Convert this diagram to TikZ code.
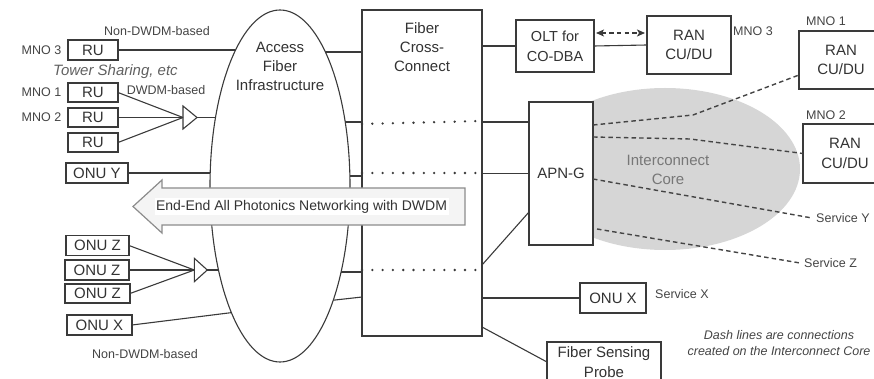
\documentclass[tikz,border=0pt]{standalone}
\usepackage{fontspec}
\setmainfont{Liberation Sans}
\usetikzlibrary{arrows.meta,shapes.geometric,calc}
\pgfdeclarelayer{bg}
\pgfdeclarelayer{fg}
\pgfdeclarelayer{top}
\pgfsetlayers{bg,main,fg,top}
\definecolor{lc}{HTML}{3A3A3A}
\definecolor{tc}{HTML}{333333}
\definecolor{sc}{HTML}{444444}
\definecolor{corec}{HTML}{D6D6D6}
\definecolor{coret}{HTML}{777777}
\definecolor{arrf}{HTML}{F4F4F4}
\definecolor{arrd}{HTML}{8C8C8C}
\begin{document}
\begin{tikzpicture}[x=1pt,y=-1pt,
  bx/.style={draw=lc, line width=1.1pt, fill=white, inner sep=0pt, outer sep=0pt,
    align=center, text=tc, font=\fontsize{15}{19.5}\selectfont},
  conn/.style={draw=lc, line width=1.1pt},
  dotl/.style={draw=lc, line width=2.6pt, dash pattern=on 0pt off 10.3pt, line cap=round},
  dashl/.style={draw=sc, line width=1.4pt, dash pattern=on 4.5pt off 3.2pt},
  lbl/.style={text=sc, inner sep=0pt, font=\fontsize{12.5}{15}\selectfont},
  bigt/.style={text=tc, inner sep=0pt, align=center, font=\fontsize{15}{19}\selectfont},
  splitter/.style={draw=lc, line width=1.1pt, fill=white, line join=miter},
]
\useasboundingbox (0,0) rectangle (874,379);
\clip (0,0) rectangle (874,379);

% interconnect core
\begin{pgfonlayer}{bg}
\node[ellipse, fill=corec, minimum width=270, minimum height=162, inner sep=0pt] (core) at (665,169) {};
\end{pgfonlayer}
\node[bigt, text=coret] (coret) at (668,170) {Interconnect\\Core};

% access fiber infrastructure (on fg layer, white fill hides line ends)
\begin{pgfonlayer}{fg}
\node[ellipse, draw=lc, line width=1.1pt, fill=white, minimum width=140, minimum height=352,
  inner sep=0pt, outer sep=0pt] (acc) at (280,186) {};
\node[bigt] (acct) at (280,66) {Access\\Fiber\\Infrastructure};
\end{pgfonlayer}

% left boxes
\node[bx, minimum width=50, minimum height=20] (ru3) at (93,50) {RU};
\node[bx, minimum width=50, minimum height=19] (ru1) at (93,92.5) {RU};
\node[bx, minimum width=50, minimum height=19] (ru2) at (93,117.5) {RU};
\node[bx, minimum width=50, minimum height=19] (ru4) at (93,142.5) {RU};
\node[bx, minimum width=62, minimum height=20] (onuy) at (97,173) {ONU Y};
\node[bx, minimum width=63, minimum height=20] (onuz1) at (97.5,245.5) {ONU Z};
\node[bx, minimum width=64, minimum height=20] (onuz2) at (97,270) {ONU Z};
\node[bx, minimum width=65, minimum height=19] (onuz3) at (97.5,293.5) {ONU Z};
\node[bx, minimum width=65, minimum height=20] (onuxl) at (99.5,325) {ONU X};

\node[lbl] (mno3l) at (41.5,50) {MNO 3};
\node[lbl] (mno1l) at (41.5,92.5) {MNO 1};
\node[lbl] (mno2l) at (41.5,117.5) {MNO 2};
\node[lbl] (ndtop) at (157,31) {Non-DWDM-based};
\node[lbl] (dwdm) at (166,90) {DWDM-based};
\node[lbl, text=sc!85, font=\fontsize{15}{18}\selectfont\itshape] (tower) at (115.5,72) {Tower Sharing, etc};
\node[lbl] (ndbot) at (145,354) {Non-DWDM-based};

% splitters
\draw[splitter] (183,106) -- (197,117.5) -- (183,129) -- cycle;
\coordinate (s1in) at (183,117.5);
\coordinate (s1out) at (197,117.5);
\draw[splitter] (194.3,258.3) -- (207.3,270) -- (194.3,281.7) -- cycle;
\coordinate (s2in) at (194.3,270);
\coordinate (s2out) at (207.3,270);

\draw[conn] (ru1.east) -- (s1in);
\draw[conn] (ru2.east) -- (s1in);
\draw[conn] (ru4.east) -- (s1in);
\draw[conn] (onuz1.east) -- (s2in);
\draw[conn] (onuz2.east) -- (s2in);
\draw[conn] (onuz3.east) -- (s2in);

% lines into access ellipse (ends hidden by its white fill)
\draw[conn] (ru3.east) -- (ru3.east -| acc.center);
\draw[conn] (s1out) -- (s1out -| acc.center);
\draw[conn] (onuy.east) -- (onuy.east -| acc.center);
\draw[conn] (s2out) -- (s2out -| acc.center);
\draw[conn] (onuxl.east) -- (acc.249);

% fiber cross-connect
\node[bx, minimum width=120, minimum height=326] (fxc) at (422,173) {};
\node[bigt] (fxct) at (422,47) {Fiber\\Cross-\\Connect};

\coordinate (pl1) at (362,52);
\coordinate (pl2) at (362,122);
\coordinate (pl3) at (362,176);
\coordinate (pl4) at (362,272);
\coordinate (pl5) at (362,297);
\draw[conn] (pl1) -- (pl1 -| acc.center);
\draw[conn] (pl2) -- (pl2 -| acc.center);
\draw[conn] (pl3) -- (pl3 -| acc.center);
\draw[conn] (pl4) -- (pl4 -| acc.center);
\draw[conn] (pl5) -- (acc.-65);

% dotted cross-connections
\coordinate (d1a) at (362,124); \coordinate (d1b) at (482,121);
\coordinate (d2a) at (362,173); \coordinate (d2b) at (482,173);
\coordinate (d3a) at (362,270); \coordinate (d3b) at (482,270);
\draw[dotl] (d1a) -- (d1b);
\draw[dotl] (d2a) -- (d2b);
\draw[dotl] (d3a) -- (d3b);

% right side boxes
\node[bx, font=\fontsize{14.5}{20}\selectfont, minimum width=78, minimum height=52] (olt) at (555,46) {OLT for\\CO-DBA};
\node[bx, minimum width=84, minimum height=58] (ran3) at (689,45) {RAN\\CU/DU};
\node[bx, minimum width=84, minimum height=58] (ran1) at (841,60) {RAN\\CU/DU};
\node[bx, minimum width=84, minimum height=59] (ran2) at (845,153.5) {RAN\\CU/DU};
\node[bx, minimum width=64, minimum height=143] (apn) at (561,173.5) {APN-G};
\node[bx, minimum width=66, minimum height=30] (onuxr) at (613,298) {ONU X};
\node[bx, minimum width=114, minimum height=40] (fsp) at (604,362) {Fiber Sensing\\Probe};

\node[lbl, anchor=west] (mno3r) at (733,31) {MNO 3};
\node[lbl, anchor=west] (mno1r) at (806,21) {MNO 1};
\node[lbl, anchor=west] (mno2r) at (806,115) {MNO 2};
\node[lbl, anchor=west] (svx) at (655,294) {Service X};

% connections from cross-connect
\draw[conn] (olt.west -| fxc.east) -- (olt.west);
\coordinate (pr2) at (482,122);
\draw[conn] (pr2) -- (pr2 -| apn.west);
\draw[conn] (apn.west -| fxc.east) -- (apn.west);
\coordinate (pr4) at (482,265);
\coordinate (apnin) at (529,212);
\draw[conn] (pr4) -- (apnin);
\draw[conn] (onuxr.west -| fxc.east) -- (onuxr.west);
\coordinate (pr6) at (482,327);
\draw[conn] (pr6) -- (fsp.west);

\draw[conn] (olt.east) -- (ran3.west);
\coordinate (da) at (596,33);
\coordinate (db) at (645,33);
\draw[dashl, draw=lc, {Stealth[length=8pt,width=7pt,inset=2pt]}-{Stealth[length=8pt,width=7pt,inset=2pt]}] (da) -- (db);

% dashed interconnect-core connections
\coordinate (a1) at (593,125);
\coordinate (b1) at (693,115);
\coordinate (r1in) at ($(ran1.south west)+(0,-14)$);
\draw[dashl] (a1) -- (b1) -- (r1in);
\coordinate (a2) at (593,137);
\coordinate (b2) at (690,139);
\draw[dashl] (a2) -- (b2) -- (ran2.west);
\coordinate (a3) at (593,179);
\coordinate (sy) at (812,218);
\draw[dashl] (a3) -- (sy);
\node[lbl, anchor=west] (svy) at (816,218) {Service Y};
\coordinate (a4) at (597,229);
\coordinate (sz) at (800,263);
\draw[dashl] (a4) -- (sz);
\node[lbl, anchor=west] (svz) at (804,263) {Service Z};

\node[lbl, align=center, font=\fontsize{12.5}{16}\selectfont\itshape] (note) at (779,343)
  {Dash lines are connections\\created on the Interconnect Core};

% big arrow
\begin{pgfonlayer}{top}
\draw[draw=arrd, fill=arrf, line width=1.2pt, line join=miter]
  (465,188) -- (162,188) -- (162,180) -- (133,206.5) -- (162,233) -- (162,225) -- (465,225) -- cycle;
\node[fill=white, inner sep=1.5pt, text=tc, font=\fontsize{14}{16}\selectfont] (arrt) at (301.5,206.5)
  {End-End All Photonics Networking with DWDM};
\end{pgfonlayer}
\end{tikzpicture}
\end{document}
